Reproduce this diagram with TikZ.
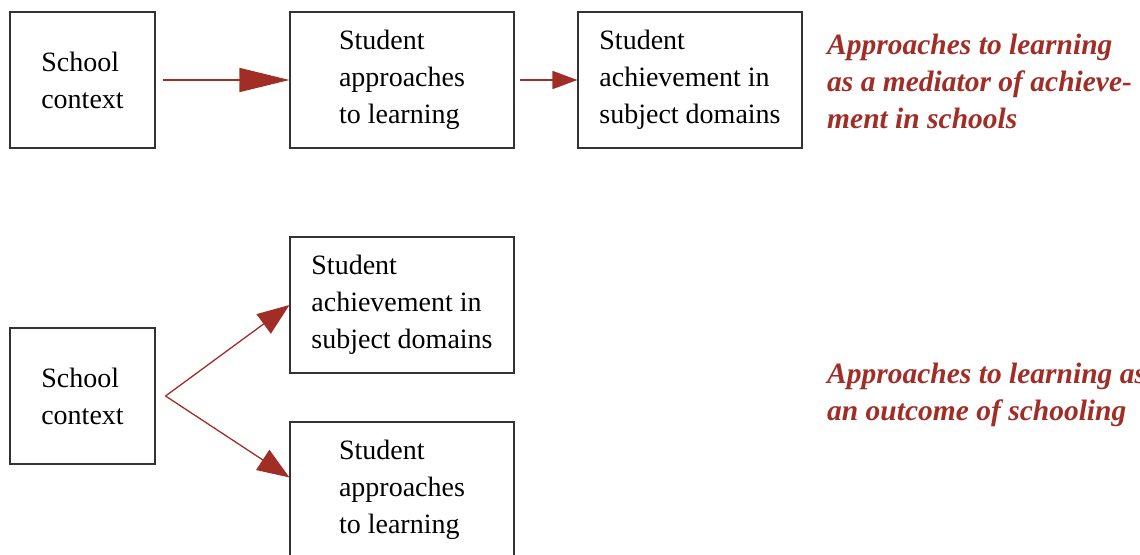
\documentclass[tikz,border=0pt]{standalone}
\usepackage{fontspec}
\setmainfont{Liberation Serif}
\usetikzlibrary{arrows.meta,positioning}
\definecolor{apred}{RGB}{160,46,38}
\begin{document}
\begin{tikzpicture}[
    x=1pt, y=-1pt,
    box/.style={draw=black!80, line width=1.1pt, minimum width=145pt, minimum height=136pt, inner sep=0pt, align=left, font=\fontsize{28}{37}\selectfont},
    wbox/.style={box, minimum width=224pt},
    note/.style={anchor=west, inner sep=0pt, align=left, text=apred, font=\fontsize{29.5}{37}\selectfont\bfseries\itshape},
    arr/.style={draw=apred, line width=1.3pt, -{Triangle[length=#1, width=24pt]}, apred},
    arr/.default=32pt
]
\clip (0,0) rectangle (1140,554);
% mediator model
\node[box] (ctx1) at (82.5,80) {School\\context};
\node[wbox] (appr1) at (402,80) {Student\\approaches\\to learning};
\node[wbox] (ach1) at (690,80) {Student\\achievement in\\subject domains};
\node[note] (med) at (827,81) {Approaches to learning\\as a mediator of achieve-\\ment in schools};

\draw[arr=50pt, line width=1.5pt, shorten <=7pt] (ctx1) -- (appr1);
\draw[arr=25pt, -{Triangle[length=25pt, width=18pt]}, line width=1.5pt, shorten <=5pt] (appr1) -- (ach1);

% outcome model
\node[box] (ctx2) at (82.5,396) {School\\context};
\node[wbox] (ach2) at (402,305) {Student\\achievement in\\subject domains};
\node[wbox] (appr2) at (402,490) {Student\\approaches\\to learning};
\node[note] (out) at (827,395) {Approaches to learning as\\an outcome of schooling};

\coordinate (split) at ([xshift=10pt]ctx2.east);
\draw[arr] (split) -- (ach2.west);
\draw[arr] (split) -- ([yshift=-56pt]appr2.north west);
\end{tikzpicture}
\end{document}
